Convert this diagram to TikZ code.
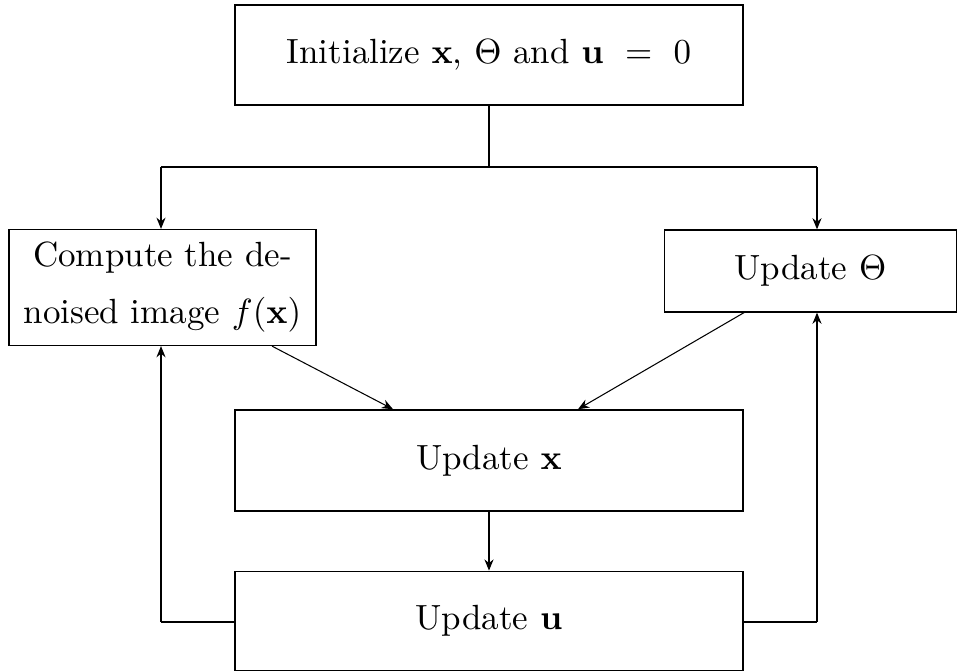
\documentclass[tikz,border=0pt]{standalone}
\usetikzlibrary{arrows.meta}
\begin{document}
\begin{tikzpicture}[x=0.2857pt,y=-0.2857pt,
  box/.style={draw,line width=0.4pt,inner sep=0pt,align=center},
  arr/.style={-{Stealth[length=3.2pt,width=2.6pt]},line width=0.3pt},
  ln/.style={line width=0.3pt}]
\useasboundingbox (0,0) rectangle (959,671);
\node[box,minimum width=145.1pt,minimum height=28.6pt] (top) at (489,55) {Initialize $\mathbf{x}$, $\Theta$ and $\mathbf{u}\ =\ 0$};
\node[box,minimum width=87.6pt,minimum height=33.1pt] (left) at (162.5,287.5) {Compute the de-\\[4.3pt]noised image $f(\mathbf{x})$};
\node[box,minimum width=83.4pt,minimum height=23.4pt] (right) at (810.5,271) {Update $\Theta$};
\node[box,minimum width=145.1pt,minimum height=28.9pt] (mid) at (489,460.5) {Update $\mathbf{x}$};
\node[box,minimum width=145.1pt,minimum height=28.4pt] (bot) at (489,621) {Update $\mathbf{u}$};
\coordinate (jl) at (161,167);
\coordinate (jr) at (817,167);
\coordinate (bl) at (161,622);
\coordinate (br) at (817,622);
\draw[ln] (top.south) -- (top.south |- jl);
\draw[ln] (jl) -- (jr);
\draw[arr] (jl) -- (jl |- left.north);
\draw[arr] (jr) -- (jr |- right.north);
\draw[arr] (left.south -| 272,0) -- (mid.north -| 393,0);
\draw[arr] (right.south -| 744,0) -- (mid.north -| 578,0);
\draw[arr] (mid.south) -- (bot.north);
\draw[ln] (bot.west |- bl) -- (bl);
\draw[arr] (bl) -- (bl |- left.south);
\draw[ln] (bot.east |- br) -- (br);
\draw[arr] (br) -- (br |- right.south);
\end{tikzpicture}
\end{document}
